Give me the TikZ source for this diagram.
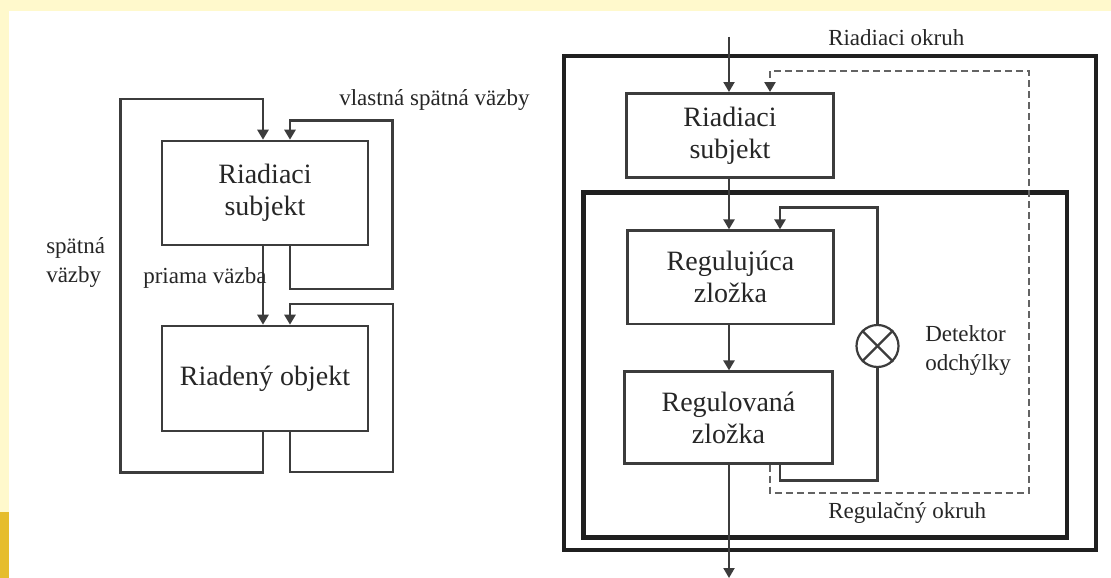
\documentclass[tikz,border=0pt]{standalone}
\usepackage{fontspec}
\setmainfont{Liberation Serif}
\usetikzlibrary{arrows.meta,calc}
\definecolor{paleyellow}{HTML}{FFF9CC}
\definecolor{goldstrip}{HTML}{E6BD2C}
\definecolor{ink}{HTML}{3C3C3C}
\definecolor{txt}{HTML}{262626}
\begin{document}
\begin{tikzpicture}[x=1pt,y=-1pt,
  line width=2.5pt, draw=ink,
  blk/.style={draw=ink, line width=2.6pt, rectangle, inner sep=0pt,
    align=center, text=txt, font=\fontsize{28}{32}\selectfont},
  loopbox/.style={draw=black!88, rectangle, inner sep=0pt},
  lbl/.style={inner sep=0pt, text=txt, align=left, font=\fontsize{23}{29}\selectfont},
  arr/.style={draw=ink, -{Triangle[width=11pt,length=10pt]}},
  sig/.style={draw=ink},
  dashsig/.style={draw=ink!80, line width=2.2pt, dash pattern=on 7pt off 4pt}
]
% page background and margin strips
\fill[white] (0,0) rectangle (1111,578);
\fill[paleyellow] (0,0) rectangle (1111,10.7);
\fill[paleyellow] (0,10.7) rectangle (9,512);
\fill[goldstrip] (0,512) rectangle (9,578);
\useasboundingbox (0,0) rectangle (1111,578);

% ---------------- left scheme ----------------
\node[blk, minimum width=206pt, minimum height=104pt] (subjL) at (265,193) {Riadiaci\\subjekt};
\node[blk, minimum width=206pt, minimum height=105pt] (objL) at (265,378.5) {Riaden\'y objekt};

\coordinate (lA) at (263,0);
\coordinate (lB) at (290,0);
\coordinate (loopBL) at (120.5,472.5);
\coordinate (loopTL) at (120.5,99);
\coordinate (s1low) at (392.5,289);
\coordinate (s1high) at (392.5,120.5);
\coordinate (s2low) at (393,472);
\coordinate (s2high) at (393,304);

% direct link
\draw[arr] (subjL.south -| lA) -- (objL.north -| lA);
% outer feedback
\draw[arr] (objL.south -| lA) |- (loopBL) -- (loopTL) -| (subjL.north -| lA);
% own feedback of the controlling subject
\draw[arr] (subjL.south -| lB) |- (s1low) -- (s1high) -| (subjL.north -| lB);
% own feedback of the controlled object
\draw[arr] (objL.south -| lB) |- (s2low) -- (s2high) -| (objL.north -| lB);

\node[lbl, anchor=west] (ownfb) at (338,100) {vlastn\'a sp\"atn\'a v\"azby};
\node[lbl, anchor=west] (backfb) at (45,262.5) {sp\"atn\'a\\v\"azby};
\node[lbl, anchor=west] (direct) at (142,278) {priama v\"azba};

% ---------------- right scheme ----------------
\node[loopbox, line width=3.5pt, minimum width=532pt, minimum height=494pt] (okruhR) at (830,303) {};
\node[loopbox, line width=4.5pt, minimum width=483.5pt, minimum height=345pt] (okruhG) at (825.25,365) {};

\node[blk, minimum width=207pt, minimum height=84pt] (subjR) at (730,135.3) {Riadiaci\\subjekt};
\node[blk, minimum width=206pt, minimum height=93.3pt] (regA) at (730.5,277.3) {Reguluj\'uca\\zlo\v{z}ka};
\node[blk, minimum width=208pt, minimum height=91.6pt] (regB) at (728.5,417.5) {Regulovan\'a\\zlo\v{z}ka};

\node[draw=ink, line width=2.2pt, circle, minimum size=42pt, inner sep=0pt] (det) at (877.5,346) {};
\draw[sig, line width=2.2pt] (det.north west) -- (det.south east);
\draw[sig, line width=2.2pt] (det.north east) -- (det.south west);

\coordinate (rA) at (729,0);
\coordinate (rC) at (780,0);
\coordinate (rD) at (770,0);
\coordinate (inTop) at (729,37);
\coordinate (outEnd) at (729,578);
\coordinate (fbLow) at (877.5,480.5);
\coordinate (fbHigh) at (877.5,207.7);
\coordinate (dashLow) at (1028.7,492.7);
\coordinate (dashHigh) at (1028.7,70.7);

% main signal path
\draw[arr, line width=2pt] (inTop) -- (subjR.north -| inTop);
\draw[arr] (subjR.south -| rA) -- (regA.north -| rA);
\draw[arr] (regA.south -| rA) -- (regB.north -| rA);
\draw[arr, line width=2pt] (regB.south -| rA) -- (outEnd);
% regulation loop through the deviation detector
\draw[sig] (regB.south -| rC) |- (fbLow) -- (det.south);
\draw[arr] (det.north) -- (fbHigh) -| (regA.north -| rC);
% control loop (dashed)
\draw[dashsig] (regB.south -| rD) |- (dashLow) -- (dashHigh) -| ($(subjR.north -| rD)+(0,-10)$);
\draw[arr] ($(subjR.north -| rD)+(0,-10)$) -- (subjR.north -| rD);

\node[lbl, anchor=west] (lblR) at (827,38) {Riadiaci okruh};
\node[lbl, anchor=west] (lblG) at (827,513) {Regula\v{c}n\'y okruh};
\node[lbl, anchor=west] (lblD) at (924,350.5) {Detektor\\odch\'ylky};
\end{tikzpicture}
\end{document}
